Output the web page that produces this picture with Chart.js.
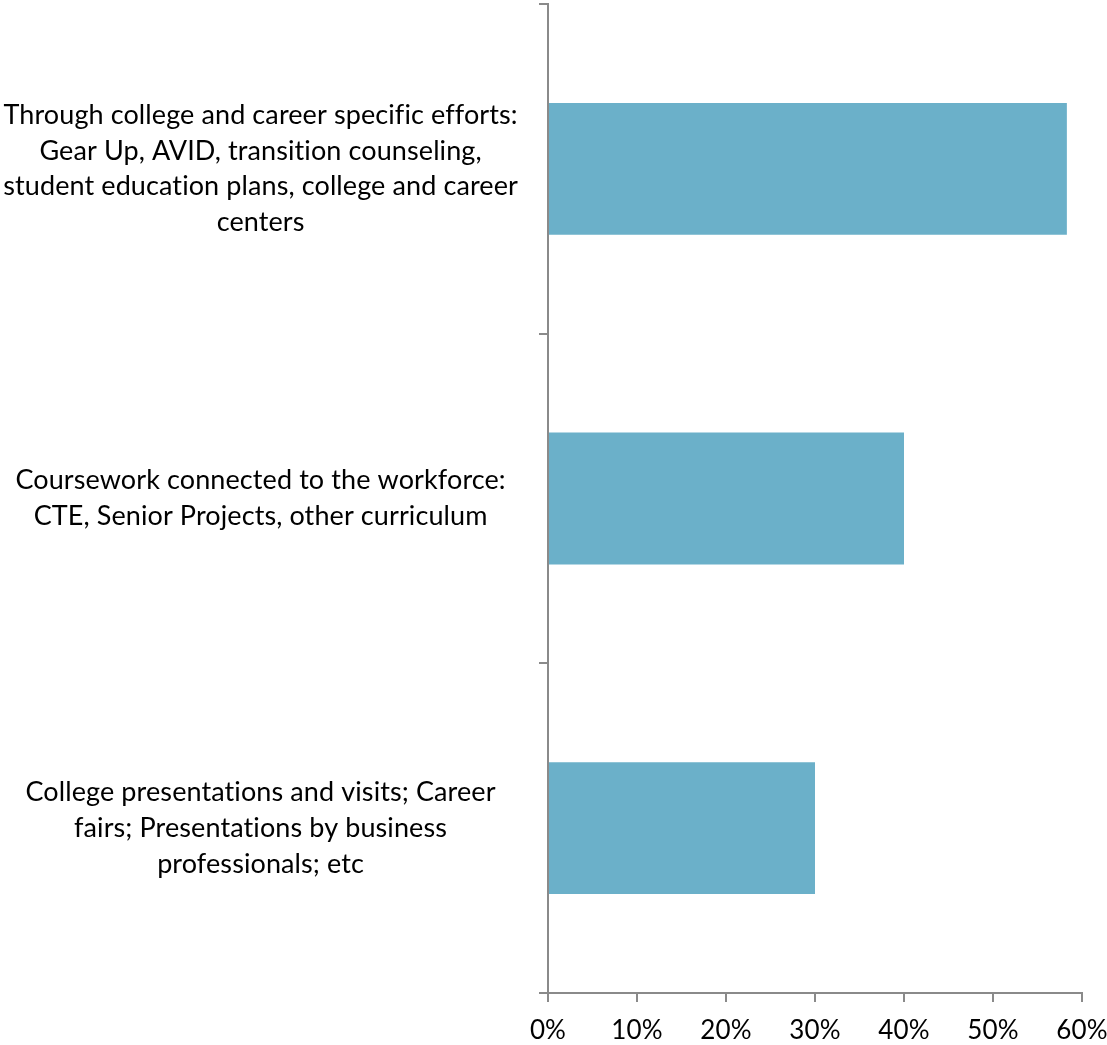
<!DOCTYPE html>
<html>
<head>
<meta charset="utf-8">
<script src="https://cdn.jsdelivr.net/npm/chart.js@4/dist/chart.umd.min.js"></script>
<style>
  html, body { margin: 0; padding: 0; background: #fff; }
  #wrap { width: 1107px; height: 1045px; }
</style>
</head>
<body>
<div id="wrap"><canvas id="chart" width="1107" height="1045"></canvas></div>
<script>
// categories (multi-line, as wrapped in the original)
const categories = [
  ["Through college and career specific efforts:", "Gear Up, AVID, transition counseling,", "student education plans, college and career", "centers"],
  ["Coursework connected to the workforce:", "CTE, Senior Projects, other curriculum"],
  ["College presentations and visits; Career", "fairs; Presentations by business", "professionals; etc"]
];
// percent of respondents
const values = [58.3, 40, 30];
const xTicks = [0, 10, 20, 30, 40, 50, 60];

const axisGrey = "#8a8a8a";
const fontFamily = "Lato, 'Open Sans', sans-serif";

// no "ti" ligatures in the labels
const plainText = {
  id: "plainText",
  beforeDraw(chart) {
    chart.ctx.textRendering = "optimizeSpeed";
    chart.ctx.letterSpacing = "0.1px";
  }
};

var ctx = document.getElementById("chart").getContext("2d");
var myChart = new Chart(ctx, {
  type: "bar",
  data: {
    labels: categories,
    datasets: [{
      data: values,
      backgroundColor: "#6BB0C9",
      borderWidth: 0,
      barPercentage: 1,
      categoryPercentage: 0.4
    }]
  },
  options: {
    indexAxis: "y",
    responsive: false,
    animation: false,
    layout: { padding: { top: 4, right: 25, left: 0, bottom: 0 } },
    plugins: {
      legend: { display: false },
      tooltip: { enabled: false }
    },
    scales: {
      x: {
        min: 0,
        max: 60,
        afterBuildTicks: (scale) => {
          scale.ticks = xTicks.map(v => ({ value: v }));
        },
        afterFit: (scale) => {
          scale.height = 52;
          scale.paddingLeft = 0;
          scale.paddingRight = 0;
        },
        border: { color: axisGrey, width: 2 },
        grid: { drawOnChartArea: false, drawTicks: true, tickLength: 9, color: axisGrey, lineWidth: 2 },
        ticks: {
          color: "#000",
          padding: 13,
          font: { family: fontFamily, size: 26 },
          callback: (v) => v + "%"
        }
      },
      y: {
        afterFit: (scale) => {
          scale.width = 548;
          scale.paddingTop = 0;
          scale.paddingBottom = 0;
        },
        border: { color: axisGrey, width: 2 },
        grid: { drawOnChartArea: false, drawTicks: true, tickLength: 9, color: axisGrey, lineWidth: 2 },
        ticks: {
          color: "#000",
          crossAlign: "center",
          padding: 23,
          font: { family: fontFamily, size: 27, lineHeight: 1.33 }
        }
      }
    }
  },
  plugins: [plainText]
});
</script>
</body>
</html>
